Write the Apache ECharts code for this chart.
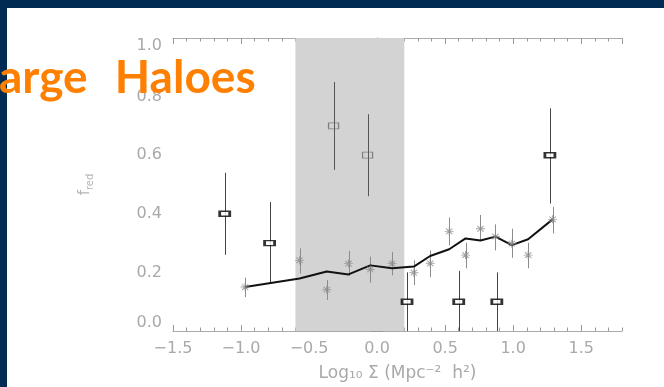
<!DOCTYPE html>
<html>
<head>
<meta charset="utf-8">
<script src="https://cdn.jsdelivr.net/npm/echarts@6/dist/echarts.min.js"></script>
<style>
  html, body { margin: 0; padding: 0; background: #ffffff; }
  #chart { width: 664px; height: 387px; }
</style>
</head>
<body>
<div id="chart"></div>
<script>
// Density bins with red fractions (asterisks) and their 1-sigma ranges
const starDensity = [-0.97, -0.57, -0.37, -0.21, -0.05, 0.11, 0.27, 0.39, 0.53, 0.65, 0.76, 0.87, 0.99, 1.11, 1.29];
const starFred    = [0.150, 0.241, 0.141, 0.230, 0.210, 0.230, 0.199, 0.231, 0.340, 0.259, 0.349, 0.322, 0.298, 0.259, 0.381];
const starLow     = [0.116, 0.196, 0.106, 0.188, 0.165, 0.190, 0.157, 0.184, 0.292, 0.214, 0.309, 0.275, 0.250, 0.214, 0.333];
const starHigh    = [0.182, 0.282, 0.174, 0.273, 0.254, 0.270, 0.241, 0.275, 0.387, 0.301, 0.396, 0.364, 0.349, 0.301, 0.424];

// Model curve evaluated at the same densities
const modelFred   = [0.150, 0.179, 0.203, 0.193, 0.224, 0.214, 0.220, 0.256, 0.279, 0.316, 0.309, 0.322, 0.293, 0.313, 0.381];

// Large haloes (bold boxes)
const haloDensity = [-1.12, -0.79, 0.22, 0.60, 0.88, 1.27];
const haloFred    = [0.40, 0.30, 0.10, 0.10, 0.10, 0.60];
const haloLow     = [0.26, 0.165, 0.0, 0.0, 0.0, 0.435];
const haloHigh    = [0.54, 0.44, 0.20, 0.205, 0.20, 0.76];

// Haloes inside the excluded density band (thin boxes)
const bandDensity = [-0.32, -0.07];
const bandFred    = [0.70, 0.60];
const bandLow     = [0.55, 0.46];
const bandHigh    = [0.85, 0.74];

// Shaded density band
const shadeFrom = -0.6;
const shadeTo = 0.2;

// Axis ranges and tick steps
const xMin = -1.5, xMax = 1.8, xMajor = 0.5, xMinor = 0.1;
const yMin = 0, yMax = 1, yMajor = 0.2;

const titleWords = ['Large', 'Haloes'];
const xName = 'Log\u2081\u2080 \u03A3 (Mpc\u207B\u00B2  h\u00B2)';

const axisGrey = '#aaaaaa';
const tickGrey = '#9a9a9a';
const labelGrey = '#a9a9a9';
const labelFont = 'DejaVu Sans';

const zip = (a, b) => a.map((v, i) => [v, b[i]]);
const zip3 = (a, b, c) => a.map((v, i) => [v, b[i], c[i]]);

function errorBars(xs, lo, hi, colour) {
  return {
    type: 'custom',
    xAxisIndex: 0,
    yAxisIndex: 0,
    z: 3,
    silent: true,
    data: zip3(xs, lo, hi),
    renderItem: (params, api) => {
      const p1 = api.coord([api.value(0), api.value(1)]);
      const p2 = api.coord([api.value(0), api.value(2)]);
      return {
        type: 'line',
        shape: { x1: Math.round(p1[0]) + 0.5, y1: p1[1], x2: Math.round(p2[0]) + 0.5, y2: p2[1] },
        style: { stroke: colour, lineWidth: 1 }
      };
    }
  };
}

function xTickAxis(position, step, len, showLine) {
  return {
    type: 'value', position, min: xMin, max: xMax, interval: step,
    axisLine: { show: showLine, lineStyle: { color: axisGrey, width: 1 } },
    axisTick: { show: true, inside: true, length: len, lineStyle: { color: tickGrey, width: 1 } },
    axisLabel: { show: false },
    splitLine: { show: false }
  };
}

function yTickAxis(position) {
  return {
    type: 'value', position, min: yMin, max: yMax, interval: yMajor,
    axisLine: { show: true, lineStyle: { color: axisGrey, width: 1 } },
    axisTick: { show: true, inside: true, length: 6, lineStyle: { color: tickGrey, width: 1 } },
    minorTick: { show: true, splitNumber: 4, length: 3.5, lineStyle: { color: tickGrey, width: 1 } },
    axisLabel: { show: false },
    splitLine: { show: false },
    minorSplitLine: { show: false }
  };
}

const chart = echarts.init(document.getElementById('chart'), null, { renderer: 'canvas' });

const xMain = xTickAxis('bottom', xMajor, 6, true);
xMain.axisLabel = {
  show: true,
  margin: 10,
  color: labelGrey,
  fontFamily: labelFont,
  fontSize: 16,
  showMaxLabel: false,
  formatter: v => {
    const r = Math.round(v / xMajor) * xMajor;
    if (Math.abs(r - v) > 1e-6 || v > 1.5 + 1e-6) return '';
    return (r < 0 ? '\u2212' : '') + Math.abs(r).toFixed(1);
  }
};
xMain.name = xName;
xMain.nameLocation = 'middle';
xMain.nameGap = 34;
xMain.nameTextStyle = { color: labelGrey, fontFamily: labelFont, fontSize: 17 };

const yMain = yTickAxis('left');
yMain.axisLabel = {
  show: true,
  margin: 11,
  color: labelGrey,
  fontFamily: labelFont,
  fontSize: 16,
  verticalAlignMinLabel: 'bottom',
  verticalAlignMaxLabel: 'top',
  formatter: v => v.toFixed(1)
};
yMain.name = '{f|f}{sub|red}';
yMain.nameLocation = 'middle';
yMain.nameRotate = 90;
yMain.nameGap = 78;
yMain.nameTextStyle = {
  color: '#b5b5b5',
  rich: {
    f: { fontFamily: labelFont, fontSize: 15, color: '#b5b5b5' },
    sub: { fontFamily: labelFont, fontSize: 10, color: '#b5b5b5', padding: [9, 0, 0, 0] }
  }
};

chart.setOption({
  animation: false,
  backgroundColor: '#ffffff',
  grid: { left: 173, top: 38, right: 42, bottom: 55, containLabel: false },
  xAxis: [
    xMain,
    xTickAxis('bottom', xMinor, 3.5, false),
    xTickAxis('top', xMajor, 6, true),
    xTickAxis('top', xMinor, 3.5, false)
  ],
  yAxis: [yMain, yTickAxis('right')],
  series: [
    {
      type: 'line',
      xAxisIndex: 0, yAxisIndex: 0,
      data: [],
      z: 1,
      silent: true,
      markArea: {
        silent: true,
        itemStyle: { color: '#d3d3d3' },
        data: [[{ xAxis: shadeFrom, yAxis: yMin }, { xAxis: shadeTo, yAxis: yMax }]]
      }
    },
    errorBars(starDensity, starLow, starHigh, '#8c8c8c'),
    errorBars(bandDensity, bandLow, bandHigh, '#555555'),
    errorBars(haloDensity, haloLow, haloHigh, '#444444'),
    {
      type: 'line',
      xAxisIndex: 0, yAxisIndex: 0,
      z: 4,
      data: zip(starDensity, modelFred),
      symbol: 'none',
      lineStyle: { color: '#111111', width: 2 }
    },
    {
      type: 'scatter',
      xAxisIndex: 0, yAxisIndex: 0,
      z: 5,
      data: zip(starDensity, starFred),
      symbol: 'path://M0 5L10 5M5 0L5 10M1.5 1.5L8.5 8.5M1.5 8.5L8.5 1.5',
      symbolSize: [9, 8],
      itemStyle: { color: 'rgba(0,0,0,0)', borderColor: '#8c8c8c', borderWidth: 1 }
    },
    {
      type: 'scatter',
      xAxisIndex: 0, yAxisIndex: 0,
      z: 5,
      data: zip(bandDensity, bandFred),
      symbol: 'rect',
      symbolSize: [10, 6],
      itemStyle: { color: 'rgba(0,0,0,0)', borderColor: '#6a6a6a', borderWidth: 1 }
    },
    {
      type: 'scatter',
      xAxisIndex: 0, yAxisIndex: 0,
      z: 6,
      data: zip(haloDensity, haloFred),
      symbol: 'rect',
      symbolSize: [10, 5],
      itemStyle: { color: '#ffffff', borderColor: '#000000', borderWidth: 2 }
    }
  ],
  graphic: [
    { type: 'rect', z: 50, silent: true, shape: { x: 0, y: 0, width: 664, height: 8 }, style: { fill: '#012b53' } },
    { type: 'rect', z: 50, silent: true, shape: { x: 0, y: 0, width: 7, height: 387 }, style: { fill: '#012b53' } },
    {
      type: 'text', z: 60, silent: true,
      x: -25, y: 78,
      style: {
        text: '{w1|' + titleWords[0] + '} {w2|' + titleWords[1] + '}',
        fill: '#ff8000',
        font: 'bold 46px Lato, "DejaVu Sans", sans-serif',
        textAlign: 'left',
        textVerticalAlign: 'middle',
        rich: {
          w1: { fill: '#ff8000', font: 'bold 46px Lato, "DejaVu Sans", sans-serif', padding: [0, 16, 0, 0] },
          w2: { fill: '#ff8000', font: 'bold 46px Lato, "DejaVu Sans", sans-serif' }
        }
      }
    }
  ]
});
</script>
</body>
</html>
